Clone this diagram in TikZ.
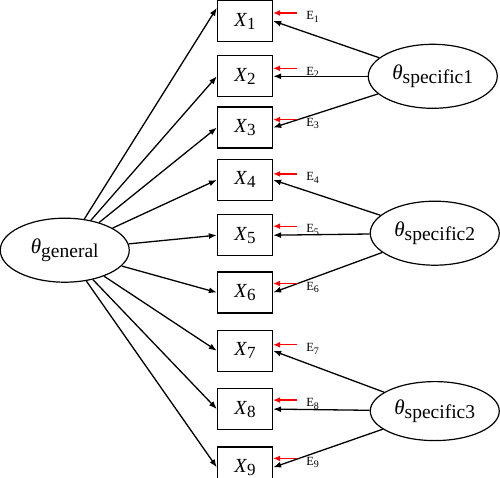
\documentclass[tikz,border=0pt]{standalone}
\usepackage{fontspec}
\setmainfont{Liberation Serif}
\usetikzlibrary{arrows.meta,positioning,shapes.geometric}
\newcommand{\xsub}[1]{\textit{X}\raisebox{-3pt}{\fontsize{17}{17}\selectfont #1}}
\newcommand{\thsub}[1]{\textit{θ}\raisebox{-4pt}{\fontsize{19.5}{20}\selectfont #1}}
\newcommand{\esub}[1]{E\raisebox{-2.5pt}{\fontsize{10}{10}\selectfont #1}}
\tikzset{
  obs/.style={draw, line width=1.3pt, minimum width=55pt, minimum height=41pt, inner sep=0pt, font=\fontsize{20}{22}\selectfont},
  latent/.style={draw, ellipse, line width=1.2pt, minimum width=129pt, minimum height=64pt, inner sep=0pt, font=\fontsize{21}{23}\selectfont},
  load/.style={-{Latex[length=8pt,width=6pt]}, line width=1.3pt},
  errarrow/.style={-{Latex[length=7pt,width=6pt]}, line width=1.3pt, red},
  elabel/.style={inner sep=1pt, font=\fontsize{12.5}{14}\selectfont}
}

\begin{document}
\begin{tikzpicture}[x=1pt, y=-1pt]
  \useasboundingbox (0,0) rectangle (500,478);
  % observed items
  \node[obs] (x1) at (245,21) {\xsub{1}};
  \node[obs, below=13pt of x1] (x2) {\xsub{2}};
  \node[obs, below=9pt of x2] (x3) {\xsub{3}};
  \node[obs, below=10pt of x3] (x4) {\xsub{4}};
  \node[obs, below=13pt of x4] (x5) {\xsub{5}};
  \node[obs, below=15pt of x5] (x6) {\xsub{6}};
  \node[obs, below=16pt of x6] (x7) {\xsub{7}};
  \node[obs, below=16pt of x7] (x8) {\xsub{8}};
  \node[obs, below=16pt of x8] (x9) {\xsub{9}};

  % latent factors
  \node[latent, left=87pt of x5, yshift=-15pt] (gen) {\thsub{general}};
  \node[latent, right=94.5pt of x2] (spec1) {\thsub{specific1}};
  \node[latent, right=96.5pt of x5, yshift=2pt] (spec2) {\thsub{specific2}};
  \node[latent, right=96.5pt of x8, yshift=-2pt, minimum height=59pt] (spec3) {\thsub{specific3}};

  % general loadings
  \draw[load] (gen) -- ([yshift=-8pt]x1.north west);
  \draw[load] (gen) -- (x2.west);
  \draw[load] (gen) -- (x3.west);
  \draw[load] (gen) -- (x4.west);
  \draw[load] (gen) -- (x5.west);
  \draw[load] (gen) -- (x6.west);
  \draw[load] (gen) -- (x7.west);
  \draw[load] (gen) -- (x8.west);
  \draw[load] (gen) -- (x9.west);

  % specific loadings
  \draw[load] (spec1) -- (x1.east);
  \draw[load] (spec1) -- (x2.east);
  \draw[load] (spec1) -- (x3.east);
  \draw[load] (spec2) -- (x4.east);
  \draw[load] (spec2) -- (x5.east);
  \draw[load] (spec2) -- (x6.east);
  \draw[load] (spec3) -- (x7.east);
  \draw[load] (spec3) -- (x8.east);
  \draw[load] (spec3) -- (x9.east);

  % error terms
  \coordinate (r1) at ([xshift=24pt, yshift=8pt]x1.east);
  \coordinate (r2) at ([xshift=24pt, yshift=8pt]x2.east);
  \coordinate (r3) at ([xshift=24pt, yshift=8pt]x3.east);
  \coordinate (r4) at ([xshift=24pt, yshift=6pt]x4.east);
  \coordinate (r5) at ([xshift=24pt, yshift=9pt]x5.east);
  \coordinate (r6) at ([xshift=24pt, yshift=9pt]x6.east);
  \coordinate (r7) at ([xshift=24pt, yshift=6pt]x7.east);
  \coordinate (r8) at ([xshift=24pt, yshift=9pt]x8.east);
  \coordinate (r9) at ([xshift=24pt, yshift=9pt]x9.east);
  \draw[errarrow] (r1) -- (r1 -| x1.east);
  \draw[errarrow] (r2) -- (r2 -| x2.east);
  \draw[errarrow] (r3) -- (r3 -| x3.east);
  \draw[errarrow] (r4) -- (r4 -| x4.east);
  \draw[errarrow] (r5) -- (r5 -| x5.east);
  \draw[errarrow] (r6) -- (r6 -| x6.east);
  \draw[errarrow] (r7) -- (r7 -| x7.east);
  \draw[errarrow] (r8) -- (r8 -| x8.east);
  \draw[errarrow] (r9) -- (r9 -| x9.east);
  \node[elabel, right=8pt of r1, yshift=-4pt] (e1) {\esub{1}};
  \node[elabel, right=8pt of r2, yshift=-4pt] (e2) {\esub{2}};
  \node[elabel, right=8pt of r3, yshift=-4pt] (e3) {\esub{3}};
  \node[elabel, right=8pt of r4, yshift=-4pt] (e4) {\esub{4}};
  \node[elabel, right=8pt of r5, yshift=-4pt] (e5) {\esub{5}};
  \node[elabel, right=8pt of r6, yshift=-4pt] (e6) {\esub{6}};
  \node[elabel, right=8pt of r7, yshift=-4pt] (e7) {\esub{7}};
  \node[elabel, right=8pt of r8, yshift=-4pt] (e8) {\esub{8}};
  \node[elabel, right=8pt of r9, yshift=-4pt] (e9) {\esub{9}};
\end{tikzpicture}
\end{document}
